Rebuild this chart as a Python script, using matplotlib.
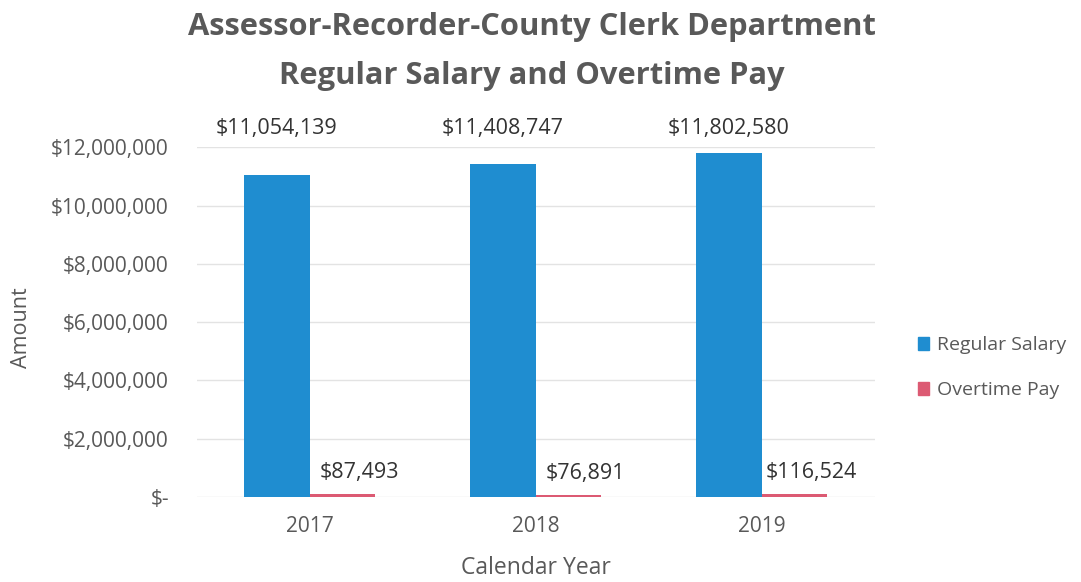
import numpy as np
import matplotlib.pyplot as plt
from matplotlib.ticker import FuncFormatter
from matplotlib.patches import Patch

years = ["2017", "2018", "2019"]
regular_salary = [11054139, 11408747, 11802580]
overtime_pay = [87493, 76891, 116524]
series_names = ["Regular Salary", "Overtime Pay"]

BLUE = "#1f8dd0"
RED = "#dc5a73"
GRAY = "#595959"

plt.rcParams['font.family'] = ['Open Sans', 'DejaVu Sans']

fig = plt.figure(figsize=(10.81, 5.82), dpi=100)
ax = fig.add_axes([0.182, 0.146, 0.627, 0.601])

x = np.arange(len(years))
w = 0.29
b1 = ax.bar(x - w / 2, regular_salary, w, color=BLUE, zorder=3)
b2 = ax.bar(x + w / 2, overtime_pay, w, color=RED, zorder=3)

ax.set_xlim(-0.5, len(years) - 0.5)
ax.set_ylim(0, 12000000)
ax.set_yticks(np.arange(0, 12000001, 2000000))

def money(v, pos=None):
    return "$-" if v == 0 else f"${v:,.0f}"

ax.yaxis.set_major_formatter(FuncFormatter(money))
ax.set_xticks(x)
ax.set_xticklabels(years)
ax.tick_params(axis='y', length=0, labelsize=15, colors=GRAY, pad=20)
ax.tick_params(axis='x', length=0, labelsize=15, colors=GRAY, pad=14)
ax.grid(axis='y', color='#e3e3e3', linewidth=1, zorder=0)
for s in ax.spines.values():
    s.set_visible(False)

# value labels
for i in range(len(years)):
    ax.annotate(f"${regular_salary[i]:,}", (x[i] - w / 2, 1.0), xycoords=('data', 'axes fraction'),
                xytext=(0, 6), textcoords='offset points', ha='center', va='bottom',
                fontsize=15.5, color='#333333', annotation_clip=False)
    ax.annotate(f"${overtime_pay[i]:,}", (x[i] + w / 2, overtime_pay[i]),
                xytext=(12, 8), textcoords='offset points', ha='center', va='bottom',
                fontsize=15.5, color='#333333')

ax.set_xlabel("Calendar Year", fontsize=16.5, color=GRAY, labelpad=13)
ax.set_ylabel("Amount", fontsize=15.5, color=GRAY)
ax.yaxis.set_label_coords(-0.243, 0.483)

fig.text(0.492, 0.979, "Assessor-Recorder-County Clerk Department\nRegular Salary and Overtime Pay",
         ha='center', va='top', fontsize=22.2, fontweight='bold', color=GRAY, linespacing=1.8)

handles = [Patch(color=BLUE), Patch(color=RED)]
fig.legend(handles, series_names, loc='center left', bbox_to_anchor=(0.849, 0.368),
           frameon=False, fontsize=14, handlelength=0.6, handleheight=0.6,
           handletextpad=0.4, labelspacing=1.4, labelcolor=GRAY,
           borderpad=0, borderaxespad=0)

fig.savefig("out.png", dpi=100, facecolor='white')
